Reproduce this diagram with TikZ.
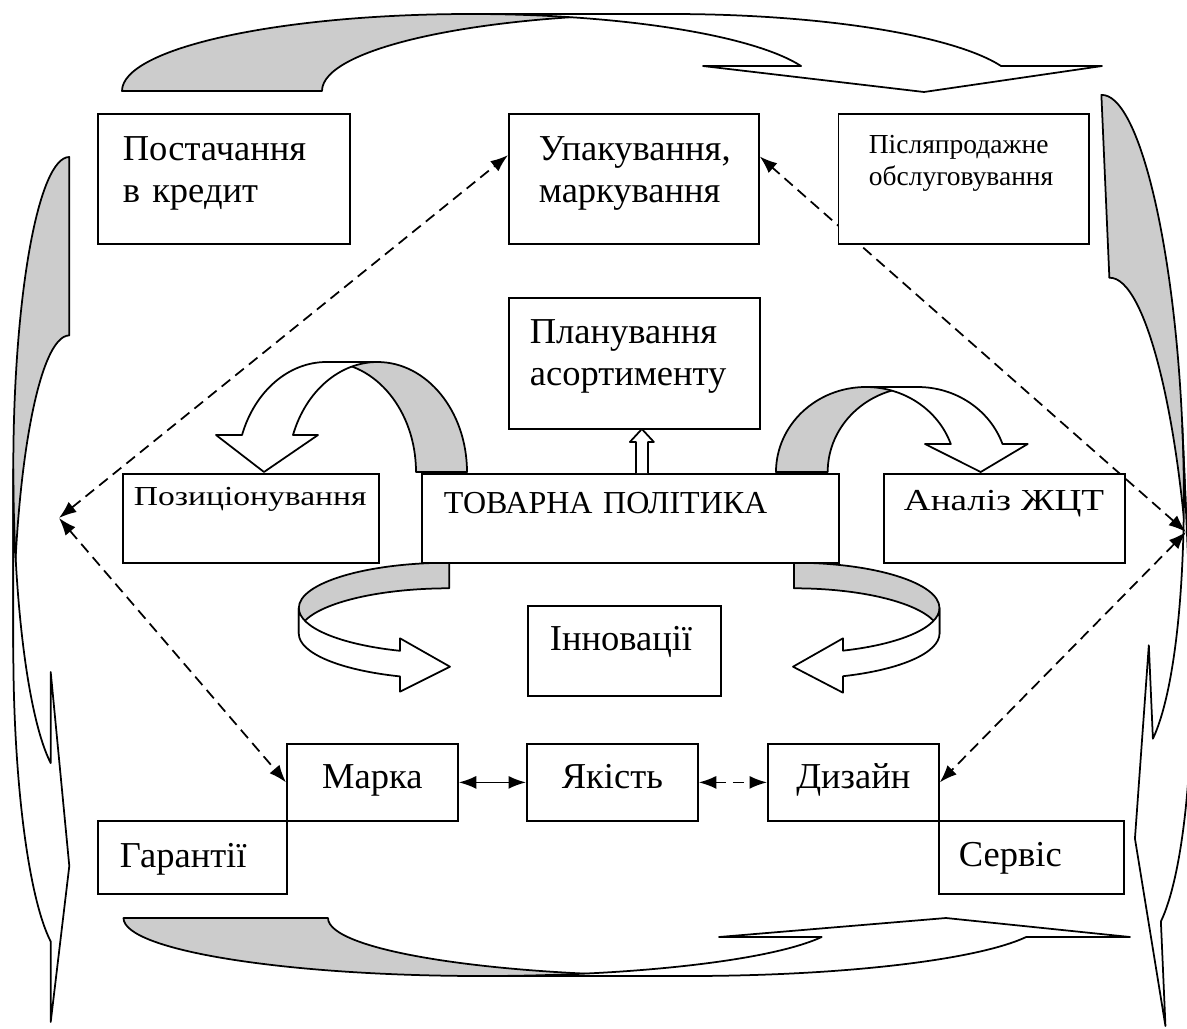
\documentclass[tikz,border=0pt]{standalone}
\usepackage{fontspec}
\setmainfont{Liberation Serif}
\newfontfamily\wideserif{Liberation Serif}[FakeStretch=1.22]
\usetikzlibrary{arrows.meta, calc, backgrounds}

\definecolor{bandgray}{gray}{0.8}

\begin{document}
\begin{tikzpicture}[
    x=0.4pt, y=-0.4pt,
    box/.style={
        rectangle,
        draw=black,
        fill=white,
        line width=0.7pt,
        anchor=north west,
        inner ysep=0pt,
        align=left,
        font=\fontsize{14.6}{16.6}\selectfont
    },
    midbox/.style={box, font=\fontsize{12.8}{14.6}\selectfont},
    smallbox/.style={box, font=\fontsize{11}{12.8}\selectfont},
    widebox/.style={box, font=\wideserif\fontsize{#1}{14}\selectfont},
    band/.style={draw=black, line width=0.7pt, line join=round},
    back/.style={band, fill=bandgray},
    front/.style={band, fill=white},
    line/.style={draw=black, line width=0.7pt, {Latex[length=7pt,width=5.2pt]}-{Latex[length=7pt,width=5.2pt]}},
    dline/.style={line, dash pattern=on 4.4pt off 2.6pt}
]
\useasboundingbox (0,0) rectangle (1187,1028);

% Top row
\node[box, text width=80.8pt, inner xsep=10pt, text height=18.8pt, text depth=33.2pt] (post) at (97,113) {Постачання\\в кредит};
\node[box, text width=76pt, inner xsep=12pt, text height=18.8pt, text depth=33.2pt] (upak) at (508,113) {Упакування,\\маркування};
\node[smallbox, text width=75.8pt, inner xsep=12.2pt, text height=16pt, text depth=36pt] (pisl) at (837.5,113) {Післяпродажне\\обслуговування};

% Centre
\node[box, text width=83.6pt, inner xsep=8.4pt, text height=18.4pt, text depth=34pt] (plan) at (508,297) {Планування\\асортименту};
\node[midbox, text width=149.2pt, inner xsep=8.8pt, text height=16pt, text depth=19.6pt] (tp) at (421,473) {ТОВАРНА ПОЛІТИКА};
\node[widebox=11, text width=93.6pt, inner xsep=4.4pt, text height=12.8pt, text depth=22.8pt] (poz) at (122,473) {Позиціонування};
\node[widebox=12.2, text width=80.4pt, inner xsep=8pt, text height=14.8pt, text depth=20.8pt] (anal) at (883,473) {Аналіз ЖЦТ};
\node[box, text width=59.6pt, inner xsep=8.8pt, text height=18pt, text depth=18pt] (inn) at (527,605) {Інновації};

% Bottom row
\node[box, align=center, text width=60.4pt, inner xsep=4pt, text height=18pt, text depth=12.8pt] (marka) at (286,743) {Марка};
\node[box, align=center, text width=60.4pt, inner xsep=4pt, text height=18pt, text depth=12.8pt] (yak) at (526,743) {Якість};
\node[box, align=center, text width=60.4pt, inner xsep=4pt, text height=18pt, text depth=12.8pt] (diz) at (767,743) {Дизайн};
\node[box, text width=58pt, inner xsep=8.8pt, text height=18.7pt, text depth=10.5pt] (gar) at (97,820) {Гарантії};
\node[box, text width=58pt, inner xsep=8pt, text height=18.4pt, text depth=10.8pt] (serv) at (938,820) {Сервіс};

% hollow arrow up to the planning box
\draw[front] ($(tp.north)+(5.5,0)$) -- ++(0,-31) -- ++(-6,0) -- ++(12,-13) -- ++(12,13) -- ++(-6,0) -- ++(0,31);

\begin{scope}[on background layer]
% Curved arrow along the top
\path[back] (122,91) arc[start angle=180, end angle=270, x radius=349, y radius=77]
    -- (671,14) arc[start angle=270, end angle=180, x radius=349, y radius=77] -- cycle;
\path[front] (471,14) arc[start angle=-90, end angle=-18.95, x radius=349, y radius=77]
    -- (703,66) -- (924,92) -- (1102,66) -- (1001.1,66)
    arc[start angle=-18.95, end angle=-90, x radius=349, y radius=77] -- cycle;

% Curved arrow along the bottom
\path[back] (123.5,918) arc[start angle=180, end angle=90, x radius=359, y radius=58]
    -- (687,976) arc[start angle=90, end angle=180, x radius=359, y radius=58] -- cycle;
\path[front] (482.5,976) arc[start angle=90, end angle=19.12, x radius=359, y radius=58]
    -- (719,937) -- (946,918) -- (1130,937) -- (1026.2,937)
    arc[start angle=19.12, end angle=90, x radius=359, y radius=58] -- cycle;

% Curved arrow on the left side
\path[back] (69.3,157) arc[start angle=-90, end angle=-180, x radius=56, y radius=311.9]
    -- (13.3,647.3) arc[start angle=180, end angle=270, x radius=56, y radius=311.9] -- cycle;
\path[front] (13.3,468.9) arc[start angle=180, end angle=109.4, x radius=56, y radius=311.9]
    -- (50.7,672) -- (69.3,866) -- (50.7,1022) -- (50.7,941.5)
    arc[start angle=109.4, end angle=180, x radius=56, y radius=311.9] -- cycle;

% Curved arrow on the right side
\begin{scope}[rotate around={2.5:(1186.7,527)}]
\path[back] (1120.3,91.6) arc[start angle=270, end angle=360, x radius=66.4, y radius=333.4]
    -- (1186.7,608) arc[start angle=0, end angle=-90, x radius=66.4, y radius=333.4] -- cycle;
\path[front] (1186.7,425) arc[start angle=0, end angle=69.37, x radius=66.4, y radius=333.4]
    -- (1143.7,643.5) -- (1121.4,836) -- (1143.7,1024.7) -- (1143.7,920)
    arc[start angle=69.37, end angle=0, x radius=66.4, y radius=333.4] -- cycle;
\end{scope}

% Over-arrow to Позиціонування
\path[back] (467,472) arc[start angle=0, end angle=-90, x radius=89.6, y radius=110]
    -- (326.4,362) arc[start angle=-90, end angle=0, x radius=89.6, y radius=110] -- cycle;
\path[front] (326.4,362) arc[start angle=-90, end angle=-160.34, x radius=89.6, y radius=110]
    -- (216,435) -- (264,472) -- (318,435) -- (293,435)
    arc[start angle=-160.34, end angle=-90, x radius=89.6, y radius=110] -- cycle;

% Over-arrow to Аналіз ЖЦТ
\path[back] (776,472) arc[start angle=180, end angle=270, x radius=89.9, y radius=85]
    -- (917.6,387) arc[start angle=270, end angle=180, x radius=89.9, y radius=85] -- cycle;
\path[front] (865.9,387) arc[start angle=-90, end angle=-19.23, x radius=89.9, y radius=85]
    -- (925,444) -- (980.7,472) -- (1027.7,444) -- (1002.5,444)
    arc[start angle=-19.23, end angle=-90, x radius=89.9, y radius=85] -- cycle;

% Under-arrows to Інновації
\path[back] (449.3,562.7) arc[start angle=-90, end angle=-180, x radius=150.5, y radius=45.3]
    -- (298.8,633.6) arc[start angle=180, end angle=270, x radius=150.5, y radius=45.3] -- cycle;
\path[front] (298.8,608) arc[start angle=180, end angle=109.12, x radius=150.5, y radius=45.3]
    -- (400,638.3) -- (450,666.7) -- (400,691.7) -- (400,676.4)
    arc[start angle=109.12, end angle=180, x radius=150.5, y radius=45.3] -- cycle;
\path[back] (793.9,562.7) arc[start angle=270, end angle=360, x radius=145.6, y radius=45.3]
    -- (939.5,633.6) arc[start angle=0, end angle=-90, x radius=145.6, y radius=45.3] -- cycle;
\path[front] (939.5,608) arc[start angle=0, end angle=70.29, x radius=145.6, y radius=45.3]
    -- (843,638.3) -- (793,666.7) -- (843,692.7) -- (843,676.2)
    arc[start angle=70.29, end angle=0, x radius=145.6, y radius=45.3] -- cycle;

% Links
\coordinate (lp) at (59,518);
\coordinate (rp) at (1186,532);
\path[dline] (lp) -- ($(upak.north west)!0.32!(upak.south west)$);
\path[dline] (lp) -- (marka.west);
\path[dline] (rp) -- ($(upak.north east)!0.33!(upak.south east)$);
\path[dline] (rp) -- (diz.east);
\path[line] (marka) -- (yak);
\path[dline] (yak) -- (diz);
\end{scope}

\end{tikzpicture}
\end{document}
